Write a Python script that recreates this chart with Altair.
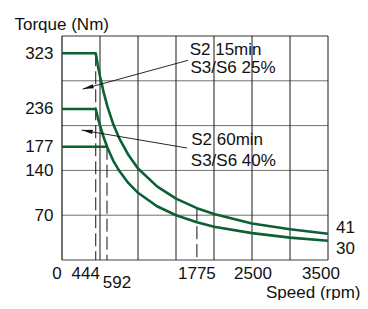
import altair as alt
import pandas as pd

# ---- data ----
speed = [0, 444, 470, 500, 550, 600, 675, 750, 875, 1000, 1250, 1500, 1775, 2000, 2500, 3000, 3500]
torque_s2_15 = [323, 323, 305, 287, 261, 239, 212, 191, 164, 143, 115, 96, 81, 72, 57, 48, 41]
torque_s2_60 = [236, 236, 223, 210, 191, 175, 155, 140, 120, 105, 84, 70, 59, 52, 42, 35, 30]
s1_speed = [0, 592]
s1_torque = [177, 177]

x_tick_labels = [0, 444, 592, 1775, 2500, 3500]
y_tick_labels = [70, 140, 177, 236, 323]
x_grid = [500, 1000, 1500, 2000, 2500, 3000, 3500]
y_grid = [70, 140, 210, 280]
y_top = [350]
y_bottom = [0]

dash_x = [444, 592, 1775]
dash_top = [323, 177, 81]

arrow_from_x = [1658, 1645]
arrow_from_y = [312, 175]
arrow_tip_x = [272, 259]
arrow_tip_y = [267, 203]

ann_text = ["S2 15min", "S3/S6 25%", "S2 60min", "S3/S6 40%"]
ann_x = [1680, 1690, 1700, 1695]
ann_y = [328, 300, 187, 155]

end_values = [41, 30]

FONT = "Liberation Sans"
GREEN = "#0b6131"

xscale = alt.Scale(domain=[0, 3500], nice=False, zero=False)
yscale = alt.Scale(domain=[0, 350], nice=False, zero=False)
xaxis = alt.Axis(title="Speed (rpm)", labels=False, ticks=False, domain=False, grid=False,
                 titleX=298, titleY=32, titleAlign="right", titleBaseline="middle",
                 titleFont=FONT, titleFontSize=17, titleFontWeight="normal", titleColor="#111")
yaxis = alt.Axis(title="Torque (Nm)", values=y_tick_labels, ticks=False, domain=False, grid=False,
                 labelPadding=9, labelFont=FONT, labelFontSize=17, labelColor="#111",
                 titleAngle=0, titleX=-48, titleY=-12, titleAlign="left", titleBaseline="middle",
                 titleFont=FONT, titleFontSize=17, titleFontWeight="normal", titleColor="#111")


def X(f):
    return alt.X(f, type="quantitative", scale=xscale, axis=xaxis)


def Y(f):
    return alt.Y(f, type="quantitative", scale=yscale, axis=yaxis)


curves = pd.DataFrame(
    [{"speed": s, "torque": t, "series": "S2 15min"} for s, t in zip(speed, torque_s2_15)]
    + [{"speed": s, "torque": t, "series": "S2 60min"} for s, t in zip(speed, torque_s2_60)]
    + [{"speed": s, "torque": t, "series": "S1"} for s, t in zip(s1_speed, s1_torque)]
)

layers = []

# grid
layers.append(alt.Chart(pd.DataFrame({"g": y_grid})).mark_rule(color="#6f6f6f", strokeWidth=1)
              .encode(y=Y("g")))
layers.append(alt.Chart(pd.DataFrame({"g": y_top})).mark_rule(color="#333", strokeWidth=1)
              .encode(y=Y("g")))
layers.append(alt.Chart(pd.DataFrame({"g": y_bottom})).mark_rule(color="#444", strokeWidth=1.2)
              .encode(y=Y("g")))
layers.append(alt.Chart(pd.DataFrame({"g": x_grid})).mark_rule(color="#1a1a1a", strokeWidth=1)
              .encode(x=X("g")))
layers.append(alt.Chart(pd.DataFrame({"g": [0]})).mark_rule(color="#111", strokeWidth=1.2)
              .encode(x=X("g")))

# dashed verticals
layers.append(alt.Chart(pd.DataFrame({"x": dash_x, "top": dash_top, "bot": [0] * len(dash_x)}))
              .mark_rule(color="#111", strokeWidth=1, strokeDash=[13, 5])
              .encode(x=X("x"), y=Y("top"), y2="bot"))

# curves
layers.append(alt.Chart(curves).mark_line(color=GREEN, strokeWidth=2.6, strokeJoin="round")
              .encode(x=X("speed"), y=Y("torque"), detail="series:N", order="speed:Q"))

# arrows
layers.append(alt.Chart(pd.DataFrame({"x": arrow_from_x, "y": arrow_from_y,
                                      "x2": arrow_tip_x, "y2": arrow_tip_y}))
              .mark_rule(color="#111", strokeWidth=0.9)
              .encode(x=X("x"), y=Y("y"), x2="x2", y2="y2"))
head = "M0,0L-0.42,2.2L0.42,2.2Z"
for i, ang in enumerate([254.6, 279.6]):
    layers.append(alt.Chart(pd.DataFrame({"x": [arrow_tip_x[i]], "y": [arrow_tip_y[i]]}))
                  .mark_point(shape=head, filled=True, size=100, angle=ang, color="#111", opacity=1)
                  .encode(x=X("x"), y=Y("y")))

# annotations
layers.append(alt.Chart(pd.DataFrame({"t": ann_text, "x": ann_x, "y": ann_y}))
              .mark_text(align="left", baseline="middle", font=FONT, fontSize=17, color="#111")
              .encode(x=X("x"), y=Y("y"), text="t:N"))

# x tick labels
x_offsets = {0: -5, 444: -10, 592: 10, 1775: 0, 2500: 1, 3500: -7}
x_dy = {592: 9}
for v in x_tick_labels:
    layers.append(alt.Chart(pd.DataFrame({"x": [v], "y": [0], "t": [str(v)]}))
                  .mark_text(align="center", baseline="top", dx=x_offsets[v], dy=6 + x_dy.get(v, 0),
                             font=FONT, fontSize=17, color="#111")
                  .encode(x=X("x"), y=Y("y"), text="t:N"))

# end labels
for v, dyv in zip(end_values, [-6, 8]):
    layers.append(alt.Chart(pd.DataFrame({"x": [3500], "y": [v], "t": [str(v)]}))
                  .mark_text(align="left", baseline="middle", dx=8, dy=dyv,
                             font=FONT, fontSize=17, color="#111")
                  .encode(x=X("x"), y=Y("y"), text="t:N"))

chart = (alt.layer(*layers)
         .properties(width=266, height=224,
                     padding={"left": 54, "top": 28, "right": 32, "bottom": 40},
                     autosize=alt.AutoSizeParams(type="none"),
                     background="white")
         .configure_view(stroke=None))

chart.save("out.html", embed_options={"renderer": "svg", "actions": False})
